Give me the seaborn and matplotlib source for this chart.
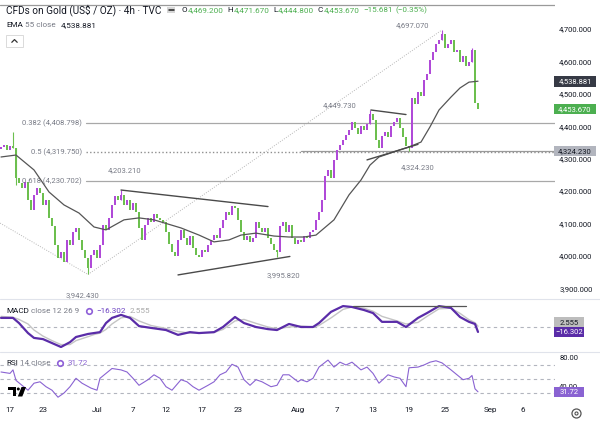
import numpy as np
import pandas as pd
import matplotlib
matplotlib.use('Agg')
import matplotlib.pyplot as plt
from matplotlib.patches import Rectangle, Circle, Polygon
import seaborn as sns

sns.set_theme(style='white')
plt.rcParams['font.family'] = ['Roboto', 'DejaVu Sans']

# ---- price data (approx. 8h steps) ----
first_open = 4330
closes = [
    4336, 4342, 4327, 4339, 4333, 4240, 4225, 4209, 4228, 4172,
    4141, 4188, 4209, 4194, 4157, 4172, 4117, 4092, 4033, 3993,
    4012, 3981, 4049, 4033, 4074, 4086, 4049, 4018, 3993, 3962,
    4003, 4018, 3993, 4033, 4095, 4080, 4117, 4157, 4185, 4172,
    4188, 4157, 4172, 4141, 4163, 4135, 4086, 4049, 4095, 4117,
    4105, 4129, 4117, 4111, 4105, 4074, 4036, 4012, 3999, 4049,
    4080, 4055, 4033, 4061, 4024, 4003, 3996, 4018, 4012, 4033,
    4049, 4064, 4055, 4086, 4111, 4135, 4126, 4154, 4148, 4111,
    4074, 4049, 4061, 4043, 4055, 4104, 4086, 4074, 4086, 4055,
    4036, 4018, 4012, 4092, 4104, 4074, 4095, 4055, 4036, 4049,
    4043, 4061, 4055, 4074, 4080, 4111, 4135, 4172, 4246, 4265,
    4240, 4296, 4327, 4342, 4357, 4373, 4388, 4413, 4394, 4376,
    4400, 4388, 4407, 4438, 4419, 4357, 4333, 4370, 4382, 4366,
    4400, 4413, 4425, 4394, 4366, 4339, 4333, 4487, 4469, 4506,
    4493, 4543, 4561, 4604, 4629, 4654, 4666, 4685, 4641, 4654,
    4666, 4629, 4635, 4598, 4617, 4586, 4598, 4635, 4472, 4453.67,
]
# bars with a visible wick and the extreme it reaches
ext_bars = [4, 5, 29, 40, 92, 123, 136, 147, 157]
ext_prices = [4382, 4219, 3942.43, 4203.21, 3995.82, 4449.73, 4324.23, 4697.07, 4640]
labelled_ext = [147, 123, 136, 40, 29, 92]

ema_bars = [0, 5, 11, 16, 21, 26, 31, 35, 41, 46, 51, 60, 66, 71, 76, 80, 85, 91,
            96, 101, 105, 111, 116, 120, 123, 126, 133, 136, 140, 143, 146, 150,
            153, 156, 159]
ema_vals = [4305, 4311, 4265, 4197, 4157, 4132, 4089, 4080, 4111, 4117, 4111, 4086,
            4064, 4043, 4049, 4064, 4070, 4061, 4058, 4058, 4064, 4111, 4188, 4234,
            4280, 4305, 4327, 4336, 4351, 4398, 4450, 4490, 4518, 4536, 4538.881]

macd_bars = [0, 4, 6, 9, 11, 14, 17, 20, 23, 25, 29, 31, 33, 35, 37, 40, 43, 46, 50,
             55, 59, 63, 66, 71, 74, 78, 81, 85, 89, 92, 96, 100, 104, 106, 110, 114,
             117, 121, 124, 127, 132, 135, 139, 142, 146, 150, 153, 156, 158, 159]
macd_vals = [30, 30, 13, -20, -36, -40, -53, -66, -50, -33, -23, -20, -17, 13, 30,
             40, 30, 3, -3, -10, -26, -17, -20, -17, 0, 33, 13, 0, -7, -10, 10, 0,
             0, 13, 50, 69, 66, 56, 46, 17, 17, 0, 30, 46, 69, 63, 33, 17, 10, -16.302]
signal_vals = [35, 32, 25, 10, -10, -30, -45, -58, -58, -45, -32, -25, -20, -8, 10,
               30, 35, 20, 5, -5, -15, -20, -19, -18, -8, 20, 25, 12, 0, -6, 0, 3,
               0, 5, 30, 58, 66, 62, 52, 35, 20, 10, 15, 35, 60, 62, 45, 24, 14, 2.555]
macd_flat_level = 70

rsi_bars = [0, 3, 4, 5, 7, 9, 11, 13, 15, 17, 19, 21, 23, 25, 27, 30, 32, 33, 35,
            37, 40, 42, 44, 46, 49, 51, 53, 55, 57, 60, 62, 64, 66, 69, 71, 73, 75,
            77, 79, 81, 83, 85, 87, 90, 92, 94, 96, 99, 100, 102, 104, 106, 109, 111,
            113, 115, 117, 120, 122, 124, 126, 129, 131, 133, 135, 136, 139, 141, 143,
            145, 147, 150, 152, 154, 156, 157, 158, 159]
rsi_vals = [60, 58, 63, 48, 41, 34, 44, 46, 39, 34, 24, 30, 39, 51, 44, 37, 34, 51,
            58, 65, 63, 60, 51, 41, 49, 56, 51, 39, 34, 49, 46, 39, 34, 41, 46, 56,
            60, 71, 67, 49, 41, 49, 46, 39, 41, 56, 56, 46, 49, 46, 51, 67, 77, 67,
            74, 70, 74, 63, 67, 58, 44, 56, 53, 51, 39, 66, 67, 70, 74, 76, 73, 63,
            56, 49, 51, 55, 36, 31.72]

price_ticks = [3900, 4000, 4100, 4200, 4300, 4400, 4500, 4600, 4700]
rsi_ticks = [80, 40]
rsi_bands = [70, 50, 30]
date_bars = [3, 14, 32, 44, 55, 67, 79, 99, 112, 124, 136, 148, 163, 174]
date_labels = ['17', '23', 'Jul', '7', '12', '17', '23', 'Aug', '7', '13', '19', '25',
               'Sep', '6']

fib_high, fib_low = 4697.07, 3942.43
fib_ratios = [0.382, 0.5, 0.618]
fib_top_ratio = -0.1
support_level = 4324.23
left_diag = [(-0.3, 4101), (29, 3942.43)]
trendlines = [
    [(40, 4203), (89, 4152)],
    [(59, 3941), (96.3, 3998)],
    [(123.3, 4450), (135, 4436)],
    [(122, 4296), (139, 4344)],
]
ohlc = [4469.2, 4471.67, 4444.8, 4453.67]
change, change_pct = -15.681, -0.35

UP, DOWN = '#b04ad8', '#6cbf4e'
DARK, GRAY, GREEN = '#131722', '#787b86', '#4caf50'
MACD_C, RSI_C = '#5a2ca8', '#8a63d2'
FS = 5.5    # axis / drawing labels
LS = 5.9    # legend rows

# ---- layout in pixel rectangles ----
W, H = 600, 423
fig = plt.figure(figsize=(W / 100, H / 100), dpi=100)
fig.patch.set_facecolor('white')


def px_axes(x0, y0, x1, y1, **kw):
    return fig.add_axes([x0 / W, 1 - y1 / H, (x1 - x0) / W, (y1 - y0) / H], **kw)


ax = px_axes(0, 0, 555, 299)
ax_m = px_axes(0, 300, 555, 352)
ax_r = px_axes(0, 353, 555, 401)
ov = px_axes(0, 0, 600, 423, zorder=10)
ov.set_xlim(0, W)
ov.set_ylim(H, 0)
ov.axis('off')
ov.patch.set_alpha(0)

xlim = (-1 / 3, 554 / 3)
for a in (ax, ax_m, ax_r):
    a.set_xlim(*xlim)
    a.set_facecolor('white')
    for s in a.spines.values():
        s.set_visible(False)
    a.grid(False)
    a.yaxis.tick_right()
    a.tick_params(axis='both', length=0, labelsize=FS, labelcolor=DARK, pad=3)
    a.set_xticks([])

ax.set_ylim(3866.7, 4789.5)
ax_m.set_ylim(-82.5, 89.1)
ax_r.set_ylim(18.6, 87.1)

# ---- candles ----
df = pd.DataFrame({'bar': np.arange(len(closes)), 'close': closes})
df['open'] = [first_open] + closes[:-1]
df['up'] = df['close'] >= df['open']
df['color'] = np.where(df['up'], UP, DOWN)
body_lo = df[['open', 'close']].min(axis=1)
body_h = (df['close'] - df['open']).abs().clip(lower=2.5)
ax.bar(df['bar'], body_h, bottom=body_lo, width=0.5, color=df['color'], linewidth=0, zorder=3)
for b, p in zip(ext_bars, ext_prices):
    lo, hi = body_lo[b], body_lo[b] + body_h[b]
    ax.vlines(b, min(p, lo), max(p, hi), color=df['color'][b], lw=0.8, zorder=3)

sns.lineplot(x=ema_bars, y=ema_vals, ax=ax, color='#555555', lw=0.9, zorder=4)

# fib retracement
span = fib_high - fib_low
for r in fib_ratios:
    lvl = fib_high - r * span
    ax.axhline(lvl, xmin=86 / 555, xmax=1, color='#8f8f8f' if r == 0.5 else '#a8a8a8',
               lw=1.0 if r == 0.5 else 0.9, ls=(0, (1, 1.6)) if r == 0.5 else '-', zorder=2)
    ax.text(82 / 555, lvl, f'{r} ({lvl:,.3f})', transform=ax.get_yaxis_transform(),
            ha='right', va='center', fontsize=FS, color=GRAY)
ax.axhline(fib_high - fib_top_ratio * span, color='#9a9a9a', lw=0.9, zorder=2)
ax.plot([100, xlim[1]], [support_level, support_level], color='#9a9a9a', lw=0.9, zorder=2)
ax.plot([29, 147], [fib_low, fib_high], color='#b8b8b8', lw=0.7, ls=(0, (1, 1.5)), zorder=1)
ax.plot(*zip(*left_diag), color='#b8b8b8', lw=0.7, ls=(0, (1, 1.5)), zorder=1)
for tl in trendlines:
    ax.plot(*zip(*tl), color='#4a4a4a', lw=1.0, zorder=5)

# price labels near extremes
offsets = {147: (-10, 15), 123: (-10, 15), 136: (3, -50), 40: (1.3, 62), 29: (-1.7, -63),
           92: (2, -55)}
for b in labelled_ext:
    p = ext_prices[ext_bars.index(b)]
    dx, dy = offsets[b]
    ax.text(b + dx, p + dy, f'{p:,.3f}', ha='center', va='center', fontsize=FS, color=GRAY)

ax.set_yticks(price_ticks)
ax.set_yticklabels([f'{t:,.3f}' for t in price_ticks])

# ---- MACD ----
ax_m.axhline(0, color='#b2b5be', lw=0.8, ls=(0, (3, 3)))
sns.lineplot(x=macd_bars, y=signal_vals, ax=ax_m, color='#c4c4c4', lw=1.0)
sns.lineplot(x=macd_bars, y=macd_vals, ax=ax_m, color=MACD_C, lw=1.6)
ax_m.plot([117.3, 155], [macd_flat_level, macd_flat_level], color='#555555', lw=0.9)
ax_m.set_yticks([])

# ---- RSI ----
for lvl in rsi_bands:
    ax_r.axhline(lvl, color='#b2b5be', lw=0.8, ls=(0, (3, 3)))
sns.lineplot(x=rsi_bars, y=rsi_vals, ax=ax_r, color=RSI_C, lw=0.8)
ax_r.set_yticks(rsi_ticks)
ax_r.set_yticklabels([f'{t:.2f}' for t in rsi_ticks])
ax_r.set_xticks(date_bars)
ax_r.set_xticklabels(date_labels)
ax_r.tick_params(axis='x', pad=4, labelsize=5.8)
for a in (ax, ax_m, ax_r):
    a.set_xlabel('')
    a.set_ylabel('')

renderer = fig.canvas.get_renderer()
minus = lambda s: s.replace('-', '\u2212')
fmt = lambda v: f'{v:,.3f}'


def row(x, y, parts, size=LS):
    # lay texts out one after another, each part = (text, colour, gap after)
    for s, c, gap in parts:
        t = ov.text(x, y, s, fontsize=size, color=c, va='center')
        x += t.get_window_extent(renderer).width + gap
    return x


def tag(a, value, text, fc, tc, w=42, dy=0):
    y = H - a.transData.transform((0, value))[1] + dy
    ov.add_patch(Rectangle((554, y - 5), w, 10.5, fc=fc, ec='none'))
    ov.text(554 + w / 2, y + 0.3, text, color=tc, ha='center', va='center', fontsize=FS)


tag(ax, ema_vals[-1], fmt(ema_vals[-1]), '#363a45', 'white')
tag(ax, closes[-1], fmt(closes[-1]), GREEN, 'white')
tag(ax, support_level, fmt(support_level), '#b2b5be', DARK)
tag(ax_m, signal_vals[-1], f'{signal_vals[-1]:.3f}', '#bdbdbd', DARK, w=30, dy=-4)
tag(ax_m, macd_vals[-1], minus(f'{macd_vals[-1]:.3f}'), MACD_C, 'white', w=30)
tag(ax_r, rsi_vals[-1], f'{rsi_vals[-1]:.2f}', RSI_C, 'white', w=30)

for y in (299.5, 352.5):
    ov.plot([0, W], [y, y], color='#e0e3eb', lw=0.8)

# header
row(6, 10, [('CFDs on Gold (US$ / OZ) \u00b7 4h \u00b7 TVC', DARK, 0)], size=7.2)
ov.add_patch(Rectangle((167, 7.3), 8, 6, fc='#d6d6d6', ec='none'))
ov.plot([168.5, 173.5], [10.3, 10.3], color='#222222', lw=1.1)
row(182, 10, [('O', DARK, 0.6), (fmt(ohlc[0]), GREEN, 3.5), ('H', DARK, 0.6),
              (fmt(ohlc[1]), GREEN, 3.5), ('L', DARK, 0.6), (fmt(ohlc[2]), GREEN, 3.5),
              ('C', DARK, 0.6), (fmt(ohlc[3]), GREEN, 3.5),
              (minus(f'{change:.3f}'), GREEN, 3),
              (minus(f'({change_pct:.2f}%)'), GREEN, 0)])
row(6, 25, [('EMA', DARK, 2), ('55 close', GRAY, 5), (fmt(ema_vals[-1]), DARK, 0)])
ov.add_patch(Rectangle((6, 35), 17, 12, fc='white', ec='#d5d5d5', lw=0.6))
ov.plot([11.8, 14.5, 17.2], [42.3, 39.6, 42.3], color='#333333', lw=0.9)

# indicator legends
x = row(6, 311, [('MACD', DARK, 2), ('close 12 26 9', GRAY, 8)])
ov.plot(x + 2, 311, marker='o', ms=4, mfc='none', mec='#8e5fd8', mew=1.2)
row(x + 9, 311, [(minus(f'{macd_vals[-1]:.3f}'), '#6a3fc1', 4),
                 (f'{signal_vals[-1]:.3f}', '#a8a8a8', 0)])
x = row(6, 363, [('RSI', DARK, 2), ('14 close', GRAY, 8)])
ov.plot(x + 2, 363, marker='o', ms=4, mfc='none', mec='#8e5fd8', mew=1.2)
row(x + 9, 363, [(f'{rsi_vals[-1]:.2f}', RSI_C, 0)])

# TradingView logo and settings gear
ov.add_patch(Polygon([(8, 387), (16, 387), (16, 396.5), (12.6, 396.5), (12.6, 390.2),
                      (8, 390.2)], closed=True, fc='black', ec='none'))
ov.add_patch(Circle((18.3, 389), 1.5, fc='black', ec='none'))
ov.add_patch(Polygon([(21.5, 387), (26, 387), (22.3, 396.5), (17.8, 396.5)], closed=True,
                     fc='black', ec='none'))
ov.plot(576, 413, marker='o', ms=6.5, mfc='none', mec='#555555', mew=0.9)
ov.plot(576, 413, marker='o', ms=2.2, mfc='none', mec='#555555', mew=0.8)

fig.savefig('out.png', dpi=100)
